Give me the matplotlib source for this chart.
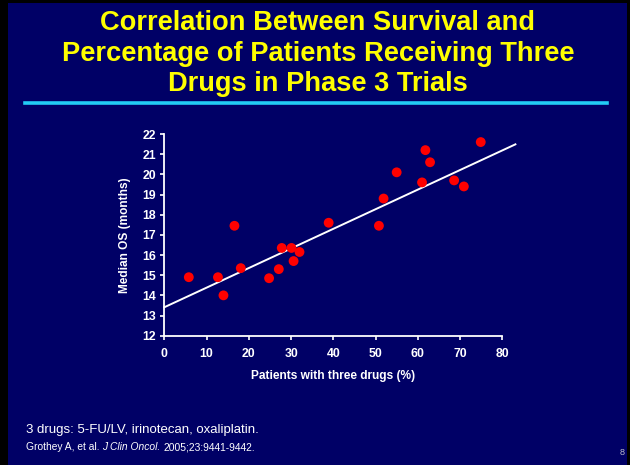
import matplotlib
matplotlib.use("Agg")
import matplotlib.pyplot as plt
from matplotlib.patches import Rectangle
from matplotlib.lines import Line2D
import numpy as np

plt.rcParams['font.family'] = ['Liberation Sans', 'DejaVu Sans']

# ---- data ----
pct_three_drugs = [5.8, 12.7, 14.0, 16.6, 18.1, 24.8, 27.1, 27.8, 30.1, 30.6, 32.0,
                   38.9, 50.8, 51.9, 55.0, 61.0, 61.8, 62.9, 68.6, 70.9, 74.9]
median_os = [14.9, 14.9, 14.0, 17.45, 15.35, 14.85, 15.3, 16.35, 16.35, 15.7, 16.15,
             17.6, 17.45, 18.8, 20.1, 19.6, 21.2, 20.6, 19.7, 19.4, 21.6]
fit_intercept = 13.41
fit_slope = 0.0972
fit_x = [0, 83.1]
x_ticks = [0, 10, 20, 30, 40, 50, 60, 70, 80]
y_ticks = [12, 13, 14, 15, 16, 17, 18, 19, 20, 21, 22]

title_lines = ["Correlation Between Survival and",
               "Percentage of Patients Receiving Three",
               "Drugs in Phase 3 Trials"]

NAVY = '#000066'
W, H = 630, 465

fig = plt.figure(figsize=(6.3, 4.65), dpi=100, facecolor='black')
# slide background
fig.patches.append(Rectangle((8 / W, 0), (627 - 8) / W, (H - 3) / H,
                             transform=fig.transFigure, facecolor=NAVY,
                             edgecolor='none', zorder=-5))

# title
for i, (line, ypx) in enumerate(zip(title_lines, [23, 54, 84])):
    fig.text(318 / W, 1 - ypx / H, line, color='#FFFF00', fontsize=19.6,
             fontweight='bold', ha='center', va='center')

# cyan rule
fig.lines.append(Line2D([25 / W, 607 / W], [1 - 103 / H, 1 - 103 / H],
                        transform=fig.transFigure, color='#22CCF5', lw=2.6,
                        zorder=-4))

ax = fig.add_axes([164.3 / W, (H - 335.7) / H, 338 / W, 201.7 / H])
ax.set_zorder(2)
ax.set_facecolor('none')
ax.set_xlim(0, 80)
ax.set_ylim(12, 22)
ax.set_xticks(x_ticks)
ax.set_yticks(y_ticks)
for s in ['top', 'right']:
    ax.spines[s].set_visible(False)
for s in ['left', 'bottom']:
    ax.spines[s].set_color('white')
    ax.spines[s].set_linewidth(1.3)
ax.tick_params(colors='white', labelcolor='white', direction='out', length=3,
               width=1.2, labelsize=8.8)
for lbl in ax.get_xticklabels() + ax.get_yticklabels():
    lbl.set_fontweight('bold')
ax.tick_params(axis='x', pad=6)
ax.tick_params(axis='y', pad=3)

ax.scatter(pct_three_drugs, median_os, s=50, color='#FF0000', edgecolors='none',
           zorder=3, clip_on=False)
fx = np.array(fit_x)
ax.plot(fx, fit_intercept + fit_slope * fx, color='white', lw=1.4, zorder=2,
        clip_on=False)

ax.set_xlabel("Patients with three drugs (%)", color='white', fontsize=8.6,
              fontweight='bold', labelpad=7)
ax.set_ylabel("Median OS (months)", color='white', fontsize=8.6,
              fontweight='bold', labelpad=8)

# footnotes
fig.text(26 / W, 1 - 430 / H, "3 drugs: 5-FU/LV, irinotecan, oxaliplatin.",
         color='white', fontsize=9.5, ha='left', va='center')
fy = 1 - 447 / H
t1 = fig.text(26 / W, fy, "Grothey A, et al.", color='white',
              fontsize=7.4, ha='left', va='center')
t2 = fig.text(0, fy, "J Clin Oncol.", color='white', fontsize=7.4,
              style='italic', ha='left', va='center')
t3 = fig.text(0, fy, "2005;23:9441-9442.", color='white', fontsize=7.4,
              ha='left', va='center')
fig.canvas.draw()
r = fig.canvas.get_renderer()
space = 3
bb1 = t1.get_window_extent(r)
t2.set_position(((bb1.x1 + space) / W, fy))
fig.canvas.draw()
bb2 = t2.get_window_extent(r)
t3.set_position(((bb2.x1 + space) / W, fy))

fig.text(622 / W, 1 - 452 / H, "8", color='#BBBBCC', fontsize=6.5,
         ha='center', va='center')

fig.savefig("out.png", dpi=100, facecolor='black')
